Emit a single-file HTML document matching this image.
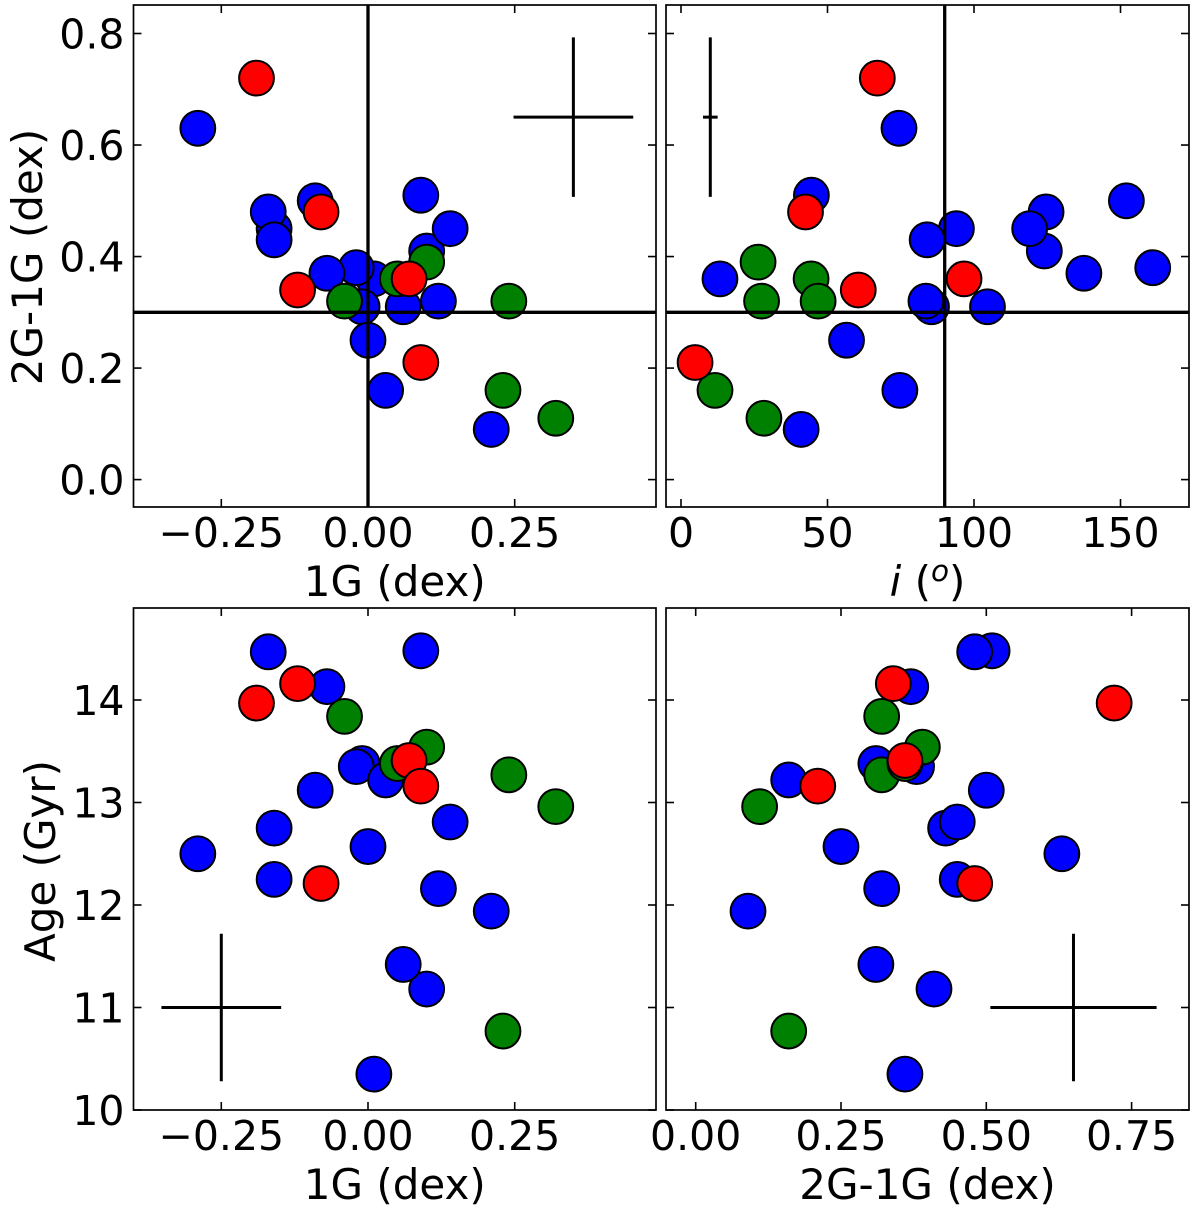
<!DOCTYPE html>
<html lang="en">
<head>
<meta charset="utf-8">
<title>Abundance, inclination and age scatter panels</title>
<style>
html,body{margin:0;padding:0;background:#fff;}
svg{display:block;}
text{font-family:"DejaVu Sans","Liberation Sans",sans-serif;fill:#000;}
</style>
</head>
<body>
<svg id="chart" xmlns="http://www.w3.org/2000/svg" width="1200" height="1207" viewBox="0 0 1200 1207"></svg>
<script>
// Point data, in draw order within each group
const blueOneG = [0.09,-0.29,0.01,-0.01,-0.02,-0.07,-0.09,0.10,-0.16,-0.17,-0.16,0.14,0.00,0.03,0.06,0.12,0.21];
const blueTwoG = [0.51,0.63,0.36,0.31,0.38,0.37,0.50,0.41,0.45,0.48,0.43,0.45,0.25,0.16,0.31,0.32,0.09];
const blueIncl = [44.5,74.4,13.3,85.5,161,137.5,152,124,94,124.6,84,119,56.5,74.7,104.6,83.6,41];
const blueAge = [14.48,12.50,10.35,13.38,13.35,14.13,13.12,11.18,12.25,14.47,12.75,12.81,12.57,13.22,11.42,12.16,11.94];

const greenOneG = [0.10,0.24,0.23,0.32,0.05,-0.04];
const greenTwoG = [0.39,0.32,0.16,0.11,0.36,0.32];
const greenIncl = [26.3,27.5,11.6,28.3,44.4,46.8];
const greenAge = [13.54,13.27,10.77,12.96,13.38,13.84];

const redOneG = [-0.19,-0.12,-0.08,0.07,0.09];
const redTwoG = [0.72,0.34,0.48,0.36,0.21];
const redIncl = [67,60.5,42.5,96.6,4.8];
const redAge = [13.97,14.16,12.21,13.41,13.16];

// Tick values and labels
const oneGTicks = [-0.25,0,0.25];
const oneGLabels = ['\u22120.25','0.00','0.25'];
const inclTicks = [0,50,100,150];
const inclLabels = ['0','50','100','150'];
const twoGYTicks = [0,0.2,0.4,0.6,0.8];
const twoGYLabels = ['0.0','0.2','0.4','0.6','0.8'];
const ageTicks = [10,11,12,13,14];
const ageLabels = ['10','11','12','13','14'];
const twoGXTicks = [0,0.25,0.5,0.75];
const twoGXLabels = ['0.00','0.25','0.50','0.75'];

// Reference lines
const refOneG = 0;
const refTwoG = 0.3;
const refIncl = 90;

// Representative error bars: centre and half-widths
const errA = {x:0.35,y:0.65,dx:0.102,dy:0.143};
const errB = {x:10,y:0.65,dx:2.5,dy:0.143};
const errC = {x:-0.25,y:11,dx:0.102,dy:0.72};
const errD = {x:0.65,y:11,dx:0.143,dy:0.72};

const SVGNS = 'http://www.w3.org/2000/svg';
const chart = document.getElementById('chart');

function linear(v0, p0, v1, p1) {
  return function (v) { return p0 + (v - v0) * (p1 - p0) / (v1 - v0); };
}
function make(parent, tag, attrs) {
  const el = document.createElementNS(SVGNS, tag);
  for (const k in attrs) el.setAttribute(k, attrs[k]);
  parent.appendChild(el);
  return el;
}

function drawPanel(cfg) {
  const g = make(chart, 'g', {});
  
  
  const sx = cfg.sx, sy = cfg.sy, f = cfg.frame;

  const groups = [
    ['blue', '#0000ff', cfg.xs[0], cfg.ys[0]],
    ['green', '#008000', cfg.xs[1], cfg.ys[1]],
    ['red', '#ff0000', cfg.xs[2], cfg.ys[2]]
  ];
  groups.forEach(function (grp) {
    grp[2].forEach(function (xv, i) {
      const c = make(g, 'circle', {cx: sx(xv), cy: sy(grp[3][i]), r: 17.4, fill: grp[1], stroke: '#000', 'stroke-width': 2});
      
      
    });
  });

  if (cfg.refX !== undefined) {
    const v = make(g, 'line', {x1: sx(cfg.refX), x2: sx(cfg.refX), y1: f.top, y2: f.bottom, stroke: '#000', 'stroke-width': 3.3});
    
    
  }
  if (cfg.refY !== undefined) {
    const h = make(g, 'line', {x1: f.left, x2: f.right, y1: sy(cfg.refY), y2: sy(cfg.refY), stroke: '#000', 'stroke-width': 3.3});
    
    
  }

  const e = cfg.err;
  const eh = make(g, 'line', {x1: sx(e.x - e.dx), x2: sx(e.x + e.dx), y1: sy(e.y), y2: sy(e.y), stroke: '#000', 'stroke-width': 3});
  
  
  const ev = make(g, 'line', {x1: sx(e.x), x2: sx(e.x), y1: sy(e.y - e.dy), y2: sy(e.y + e.dy), stroke: '#000', 'stroke-width': 3});
  
  

  const TL = 8;
  cfg.xTicks.forEach(function (t, i) {
    const x = sx(t);
    const a = make(g, 'line', {x1: x, x2: x, y1: f.bottom, y2: f.bottom - TL, stroke: '#000', 'stroke-width': 1.6});
    
    
    const b = make(g, 'line', {x1: x, x2: x, y1: f.top, y2: f.top + TL, stroke: '#000', 'stroke-width': 1.6});
    
    
    const l = make(g, 'text', {x: x, y: f.bottom + 40, 'font-size': 41, 'text-anchor': 'middle'});
    l.textContent = cfg.xLabels[i];
    
    
  });
  cfg.yTicks.forEach(function (t, i) {
    const y = sy(t);
    const a = make(g, 'line', {x1: f.left, x2: f.left + TL, y1: y, y2: y, stroke: '#000', 'stroke-width': 1.6});
    
    
    const b = make(g, 'line', {x1: f.right, x2: f.right - TL, y1: y, y2: y, stroke: '#000', 'stroke-width': 1.6});
    
    
    if (cfg.showYLabels) {
      const l = make(g, 'text', {x: f.left - 9, y: y + 15, 'font-size': 41, 'text-anchor': 'end'});
      l.textContent = cfg.yLabels[i];
      
      
    }
  });

  const frame = make(g, 'rect', {x: f.left, y: f.top, width: f.right - f.left, height: f.bottom - f.top, fill: 'none', stroke: '#000', 'stroke-width': 1.7});
  
  

  const xl = make(g, 'text', {x: (f.left + f.right) / 2 + (cfg.xTitleShift || 0), y: f.bottom + 89, 'font-size': 42, 'text-anchor': 'middle'});
  if (cfg.xTitleHtml) {
    const i1 = make(xl, 'tspan', {'font-style': 'italic'});
    i1.textContent = 'i';
    const t1 = make(xl, 'tspan', {});
    t1.textContent = ' (';
    const o1 = make(xl, 'tspan', {'font-style': 'italic', 'font-size': 29.5, dy: -15});
    o1.textContent = 'o';
    const t2 = make(xl, 'tspan', {dy: 15});
    t2.textContent = ')';
  } else {
    xl.textContent = cfg.xTitle;
  }
  
  

  if (cfg.yTitle) {
    const cy = cfg.yTitleY;
    const yl = make(g, 'text', {x: cfg.yTitleX, y: cy, 'font-size': 42, 'text-anchor': 'middle', transform: 'rotate(-90 ' + cfg.yTitleX + ' ' + cy + ')'});
    yl.textContent = cfg.yTitle;
    
    
  }
}

const frameA = {left: 133.5, right: 656, top: 5, bottom: 507};
const frameB = {left: 666, right: 1189, top: 5, bottom: 507};
const frameC = {left: 133.5, right: 656, top: 608, bottom: 1110};
const frameD = {left: 666, right: 1189, top: 608, bottom: 1110};

const xOneG = linear(0, 368, 0.25, 514.7);
const xIncl = linear(0, 681, 50, 827.5);
const xTwoG = linear(0, 695.7, 0.25, 841);
const yTwoG = linear(0, 479.6, 0.8, 33.5);
const yAge = linear(10, 1110, 14, 700);

drawPanel({
  name: 'panel-2g1g-vs-1g', frame: frameA, sx: xOneG, sy: yTwoG,
  xs: [blueOneG, greenOneG, redOneG], ys: [blueTwoG, greenTwoG, redTwoG],
  xTicks: oneGTicks, xLabels: oneGLabels, yTicks: twoGYTicks, yLabels: twoGYLabels, showYLabels: true,
  refX: refOneG, refY: refTwoG, err: errA, xTitle: '1G (dex)', yTitle: '2G-1G (dex)', yTitleX: 42, yTitleY: 257
});
drawPanel({
  name: 'panel-2g1g-vs-inclination', frame: frameB, sx: xIncl, sy: yTwoG,
  xs: [blueIncl, greenIncl, redIncl], ys: [blueTwoG, greenTwoG, redTwoG],
  xTicks: inclTicks, xLabels: inclLabels, yTicks: twoGYTicks, yLabels: twoGYLabels, showYLabels: false,
  refX: refIncl, refY: refTwoG, err: errB, xTitleHtml: true
});
drawPanel({
  name: 'panel-age-vs-1g', frame: frameC, sx: xOneG, sy: yAge,
  xs: [blueOneG, greenOneG, redOneG], ys: [blueAge, greenAge, redAge],
  xTicks: oneGTicks, xLabels: oneGLabels, yTicks: ageTicks, yLabels: ageLabels, showYLabels: true,
  err: errC, xTitle: '1G (dex)', yTitle: 'Age (Gyr)', yTitleX: 55, yTitleY: 861
});
drawPanel({
  name: 'panel-age-vs-2g1g', frame: frameD, sx: xTwoG, sy: yAge,
  xs: [blueTwoG, greenTwoG, redTwoG], ys: [blueAge, greenAge, redAge],
  xTicks: twoGXTicks, xLabels: twoGXLabels, yTicks: ageTicks, yLabels: ageLabels, showYLabels: false,
  err: errD, xTitle: '2G-1G (dex)'
});
</script>
</body>
</html>
